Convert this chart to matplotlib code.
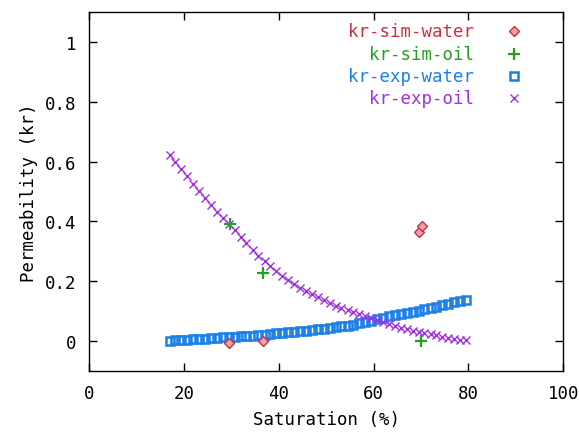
import matplotlib
matplotlib.use("Agg")
import matplotlib.pyplot as plt
from matplotlib.ticker import FuncFormatter

### data
sat_exp = [17, 18.2, 19.5, 20.7, 22, 23.2, 24.5, 25.7, 27, 28.2, 29.5, 30.7, 32,
           33.2, 34.5, 35.7, 37, 38.2, 39.5, 40.7, 42, 43.2, 44.5, 45.7, 47, 48.2,
           49.5, 50.7, 52, 53.2, 54.5, 55.7, 57, 58.2, 59.5, 60.7, 62, 63.2, 64.5,
           65.7, 67, 68.2, 69.5, 70.7, 72, 73.2, 74.5, 75.7, 77, 78.2, 79.5]
kr_exp_oil = [0.622, 0.598, 0.574, 0.551, 0.526, 0.503, 0.478, 0.454, 0.432, 0.412,
              0.391, 0.371, 0.348, 0.327, 0.305, 0.286, 0.268, 0.252, 0.235, 0.219,
              0.205, 0.192, 0.178, 0.168, 0.157, 0.147, 0.137, 0.127, 0.118, 0.111,
              0.103, 0.096, 0.089, 0.083, 0.076, 0.070, 0.063, 0.057, 0.051, 0.045,
              0.040, 0.035, 0.031, 0.027, 0.023, 0.019, 0.015, 0.012, 0.008, 0.005,
              0.002]
kr_exp_water = [0.000, 0.002, 0.003, 0.004, 0.006, 0.007, 0.008, 0.010, 0.011, 0.013,
                0.014, 0.015, 0.016, 0.017, 0.018, 0.020, 0.021, 0.023, 0.026, 0.028,
                0.030, 0.031, 0.033, 0.035, 0.037, 0.039, 0.041, 0.043, 0.046, 0.049,
                0.052, 0.055, 0.059, 0.063, 0.068, 0.073, 0.078, 0.083, 0.087, 0.090,
                0.094, 0.098, 0.102, 0.106, 0.110, 0.114, 0.119, 0.124, 0.129, 0.134,
                0.139]

sat_sim_water = [29.6, 36.6, 69.6, 70.1]
kr_sim_water = [-0.005, 0.0, 0.365, 0.385]
sat_sim_oil = [29.8, 36.6, 69.9]
kr_sim_oil = [0.39, 0.227, 0.0]

labels = ["kr-sim-water", "kr-sim-oil", "kr-exp-water", "kr-exp-oil"]
colors = ["#cc3040", "#22a022", "#1a80e8", "#a030e0"]

plt.rcParams["font.family"] = ["DejaVu Sans Mono"]
plt.rcParams["font.size"] = 12.5

fig = plt.figure(figsize=(5.79, 4.39), dpi=100)
ax = fig.add_axes([0.1537, 0.1526, 0.8193, 0.8178])

styles = [
    dict(marker="D", ms=5, mfc="#f0a0a8", mec=colors[0], mew=1.0),
    dict(marker="+", ms=8, mfc="none", mec=colors[1], mew=1.6),
    dict(marker="s", ms=6, mfc="none", mec=colors[2], mew=1.8),
    dict(marker="x", ms=6, mfc="none", mec=colors[3], mew=1.0),
]

ax.plot(sat_exp, kr_exp_water, ls="none", **styles[2])
ax.plot(sat_exp, kr_exp_oil, ls="none", **styles[3])
ax.plot(sat_sim_water, kr_sim_water, ls="none", **styles[0])
ax.plot(sat_sim_oil, kr_sim_oil, ls="none", **styles[1])

ax.set_xlim(0, 100)
ax.set_ylim(-0.1, 1.1)
ax.set_xticks([0, 20, 40, 60, 80, 100])
ax.set_yticks([0, 0.2, 0.4, 0.6, 0.8, 1.0])
ax.yaxis.set_major_formatter(FuncFormatter(lambda v, p: "%g" % round(v, 2)))
ax.tick_params(direction="in", length=6, width=1, top=True, right=True, labelsize=12.5)
ax.tick_params(axis="x", pad=9)
ax.tick_params(axis="y", pad=9)
for s in ax.spines.values():
    s.set_linewidth(1.0)

ax.set_xlabel("Saturation (%)", fontsize=12.5, labelpad=6)
ax.set_ylabel("Permeability (kr)", fontsize=12.5, labelpad=5)

# gnuplot-style key: right aligned text, sample on the right
rows = [0.947, 0.883, 0.822, 0.760]
for lab, col, st, yy in zip(labels, colors, styles, rows):
    ax.text(0.811, yy, lab, color=col, ha="right", va="center",
            transform=ax.transAxes, fontsize=12.5)
    ax.plot([0.895], [yy], transform=ax.transAxes, ls="none", clip_on=False, **st)

fig.savefig("out.png", dpi=100)
